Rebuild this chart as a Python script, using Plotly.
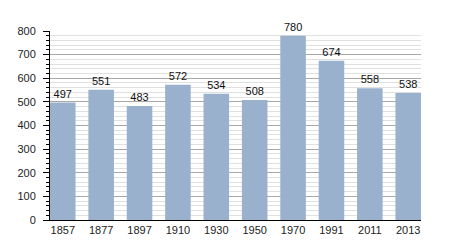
import plotly.graph_objects as go

years = ["1857", "1877", "1897", "1910", "1930", "1950", "1970", "1991", "2011", "2013"]
population = [497, 551, 483, 572, 534, 508, 780, 674, 558, 538]

bar_color = "#99b1cc"
gap = 0.334

fig = go.Figure(go.Bar(
    x=years, y=population,
    marker=dict(color=bar_color, line=dict(width=0)),
    text=[str(v) for v in population], textposition="outside",
    textfont=dict(family="Liberation Sans, Arial", size=11, color="#111"),
    cliponaxis=False,
))

fig.update_layout(
    width=450, height=250,
    margin=dict(l=50, r=29, t=31, b=30),
    paper_bgcolor="white", plot_bgcolor="white",
    bargap=gap,
    showlegend=False,
    font=dict(family="Liberation Sans, Arial", size=11, color="#222"),
)
fig.update_xaxes(
    type="category", range=[-0.5 + gap / 2, len(years) - 0.5 - gap / 2],
    showline=True, linecolor="black", linewidth=1,
    ticks="", showgrid=False, tickfont=dict(size=11),
)
fig.update_yaxes(
    range=[0, 800], dtick=100, showline=True, linecolor="black", linewidth=1,
    ticks="outside", ticklen=6, tickcolor="black", tickwidth=1,
    gridcolor="#a8a8a8", gridwidth=1, zeroline=False,
    minor=dict(dtick=20, showgrid=True, gridcolor="#e0e0e0", gridwidth=1,
               ticks="outside", ticklen=3, tickcolor="black"),
    tickfont=dict(size=11), ticklabelstandoff=5,
)
fig.write_html("out.html")
